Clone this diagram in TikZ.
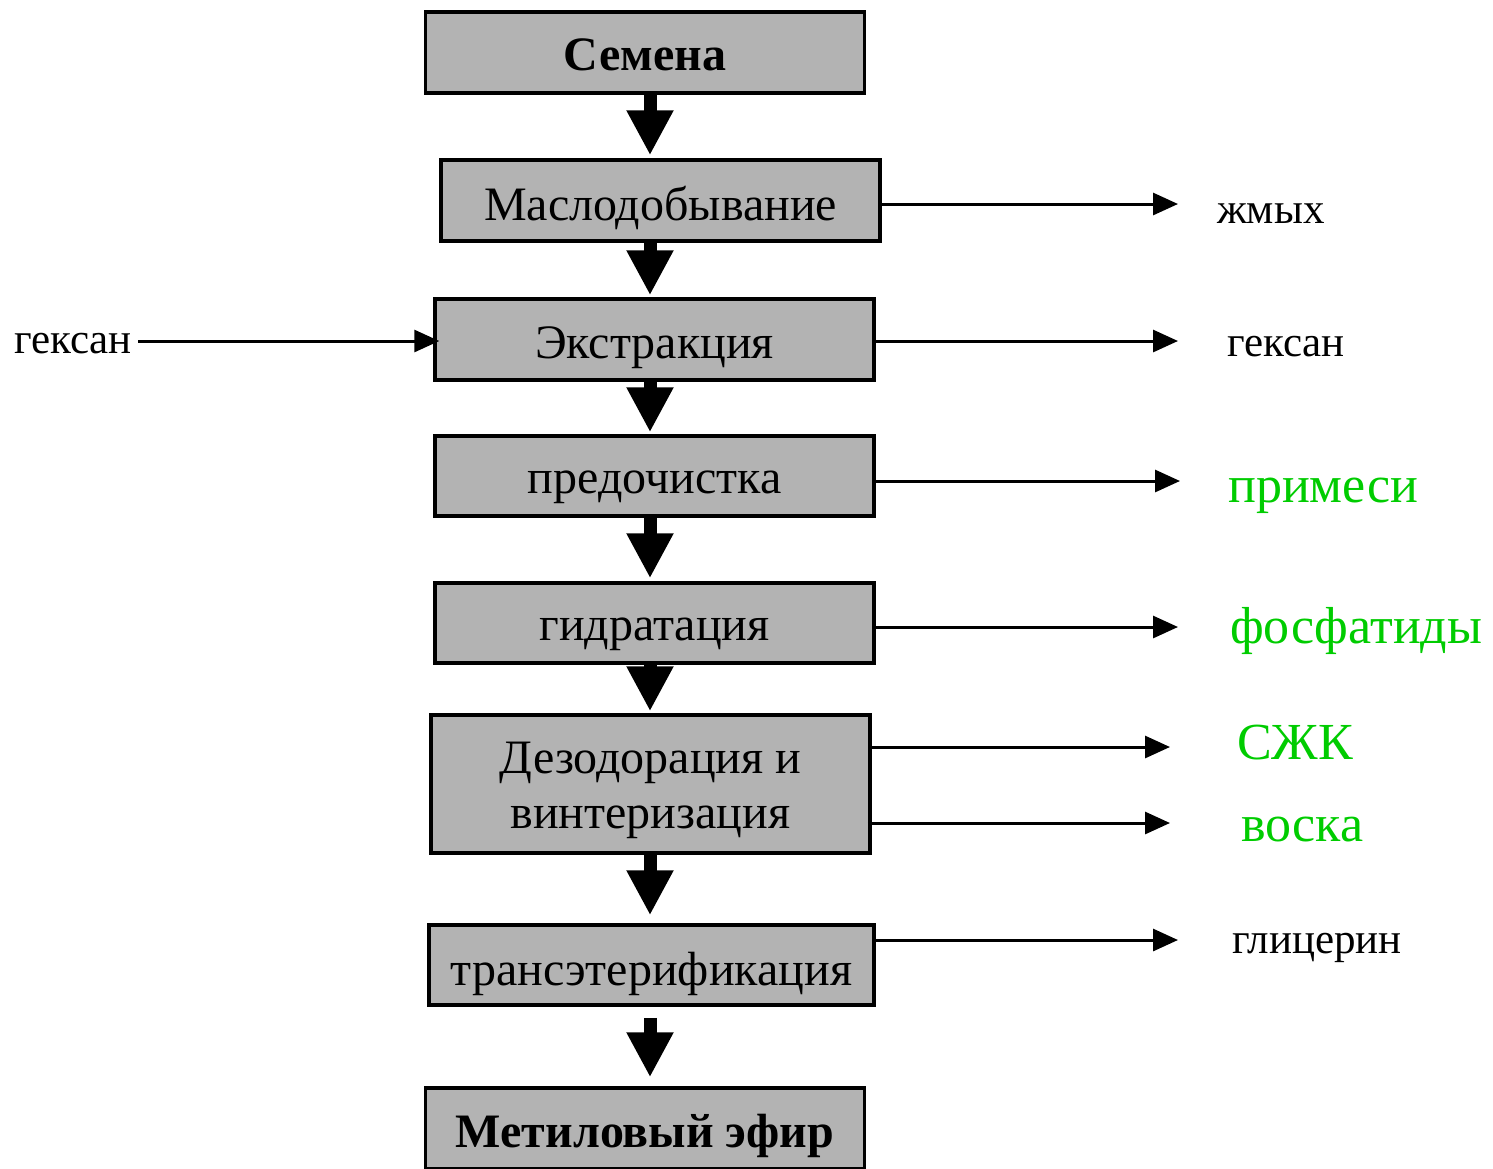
\documentclass[tikz,border=0pt]{standalone}
\usepackage{fontspec}
\setmainfont{Liberation Serif}
\usetikzlibrary{arrows.meta}
\definecolor{boxgray}{RGB}{179,179,179}
\definecolor{outgreen}{RGB}{0,204,0}

\begin{document}
\begin{tikzpicture}[x=1pt,y=-1pt,
    stage/.style={draw=black,line width=3.5pt,fill=boxgray,minimum width=439pt,
      minimum height=81pt,inner sep=0pt,align=center,text height=35pt,text depth=0pt,
      font=\fontsize{48}{55}\selectfont},
    flow/.style={line width=13pt,-{Triangle[length=45pt,width=44pt]}},
    side/.style={line width=3pt,-{Triangle[length=25pt,width=22pt]}},
    waste/.style={anchor=base west,inner sep=0pt,font=\fontsize{43}{50}\selectfont},
    product/.style={waste,text=outgreen,font=\fontsize{52}{60}\selectfont}]
  \useasboundingbox (0,0) rectangle (1493,1168);

  % main chain
  \node[stage,font=\fontsize{48}{55}\bfseries] (seeds) at (645,52.5) {Семена};
  \node[stage,text height=40pt] (oil)   at (660.5,200.5) {Маслодобывание};
  \node[stage,text height=37pt] (extr)  at (654.5,339.5) {Экстракция};
  \node[stage,minimum height=80pt] (prec)  at (654.5,476) {предочистка};
  \node[stage,minimum height=80pt] (hydr)  at (654.5,623) {гидратация};
  \node[stage,minimum height=138pt,text height=88pt] (deo) at (650.5,784) {Дезодорация и\\винтеризация};
  \node[stage,minimum width=445pt,minimum height=80pt,text height=40pt] (trans) at (651.5,965) {трансэтерификация};
  \node[stage,text height=38pt,font=\fontsize{48}{55}\bfseries] (ester) at (645,1128.5) {Метиловый эфир};

  \draw[flow,shorten >=3pt] (seeds.south -| 650,0) -- (oil.north -| 650,0);
  \draw[flow,shorten >=2pt] (oil.south -| 650,0) -- (extr.north -| 650,0);
  \draw[flow,shorten >=2pt] (extr.south -| 650,0) -- (prec.north -| 650,0);
  \draw[flow,shorten >=3pt] (prec.south -| 650,0) -- (hydr.north -| 650,0);
  \draw[flow,shorten >=2pt] (hydr.south -| 650,0) -- (deo.north -| 650,0);
  \draw[flow,shorten >=8pt] (deo.south -| 650,0) -- (trans.north -| 650,0);
  \draw[flow,shorten <=11pt,shorten >=9pt] (trans.south -| 650,0) -- (ester.north -| 650,0);

  % inputs and outputs
  \node[waste,anchor=base east] (hexin) at (132,353) {гексан};
  \node[waste] (cake)  at (1217,223) {жмых};
  \node[waste] (hexout) at (1227,356) {гексан};
  \node[product] (impur) at (1228,502) {примеси};
  \node[product] (phos)  at (1230,643) {фосфатиды};
  \node[product] (ffa)   at (1237,759) {СЖК};
  \node[product] (wax)   at (1241,841) {воска};
  \node[waste] (glyc)  at (1232,953) {глицерин};

  \draw[side,shorten <=6pt,shorten >=-6pt] (hexin.east |- 0,341) -- (extr.west |- 0,341);
  \draw[side,shorten >=39pt] (oil.east |- 0,204) -- (cake.west |- 0,204);
  \draw[side,shorten >=49pt] (extr.east |- 0,341) -- (hexout.west |- 0,341);
  \draw[side,shorten >=48pt] (prec.east |- 0,481) -- (impur.west |- 0,481);
  \draw[side,shorten >=52pt] (hydr.east |- 0,627) -- (phos.west |- 0,627);
  \draw[side,shorten >=67pt] (deo.east |- 0,747) -- (ffa.west |- 0,747);
  \draw[side,shorten <=-4pt,shorten >=71pt] (deo.east |- 0,823) -- (wax.west |- 0,823);
  \draw[side,shorten >=54pt] (trans.east |- 0,940) -- (glyc.west |- 0,940);
\end{tikzpicture}
\end{document}
